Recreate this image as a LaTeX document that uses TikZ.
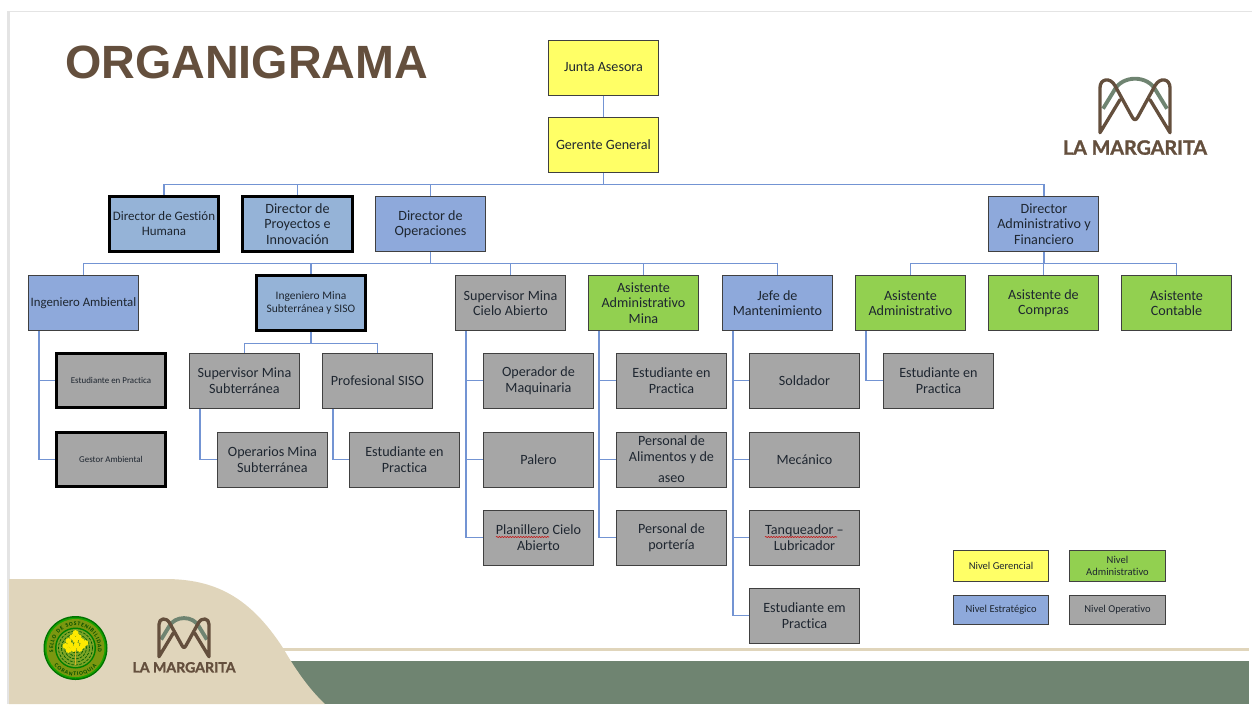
\documentclass[tikz,border=0pt]{standalone}
\usepackage{fontspec}
\setmainfont[Ligatures=CommonOff]{Carlito}
\newfontfamily\titlefont{Liberation Sans}
\newfontfamily\logofont[BoldFeatures={FakeBold=1.4}]{Lato}
\usetikzlibrary{calc,decorations.text,decorations.pathmorphing}
\definecolor{brownlogo}{HTML}{644F3D}
\definecolor{greenlogo}{HTML}{6F8471}
\definecolor{sand}{HTML}{E0D5BB}
\definecolor{framegray}{HTML}{E4E4E4}
\definecolor{linkblue}{HTML}{7394D3}
\definecolor{gerfill}{HTML}{FFFF66}
\definecolor{estfill}{HTML}{8EA9DB}
\definecolor{heavyfill}{HTML}{95B3D7}
\definecolor{admfill}{HTML}{92D050}
\definecolor{opfill}{HTML}{A6A6A6}
\definecolor{inktext}{HTML}{1E2630}
\tikzset{
  orgbox/.style={draw=black!75,line width=0.75pt,text=inktext,align=center,inner sep=0pt,xshift=-0.4pt,
    minimum width=82.5pt,minimum height=41.25pt,font=\fontsize{10.6}{11.6}\selectfont},
  gerbox/.style={orgbox,fill=gerfill},
  estbox/.style={orgbox,fill=estfill},
  admbox/.style={orgbox,fill=admfill},
  opbox/.style={orgbox,fill=opfill},
  heavy/.style={draw=black,line width=2.2pt,fill=heavyfill,minimum width=82pt,minimum height=41pt},
  legbox/.style={orgbox,minimum width=71.5pt,font=\fontsize{7.9}{9.4}\selectfont},
  conn/.style={draw=linkblue,line width=1pt},
  tree/.style={to path={(\tikztostart.south) -- ++(0,-8.6pt) -| (\tikztotarget.north)}},
  side/.style={to path={([xshift=8.25pt]\tikztostart.south west) |- (\tikztotarget.west)}},
  logo/.pic={
    \draw[greenlogo,line width=2.9pt] (-32,-24) -- (-21,-42) .. controls (-13,-58) and (13,-58) .. (21,-42) -- (32,-24);
    \draw[brownlogo,line width=2.5pt,line join=round,line cap=round]
      (-15,-33) -- (-35,0) -- (-35,-45) .. controls (-35,-54) and (-25,-56) .. (-20,-47)
      -- (-3,-16) .. controls (-1,-12) and (1,-12) .. (3,-16) -- (20,-47)
      .. controls (25,-56) and (35,-54) .. (35,-45) -- (35,0) -- (15,-33);
    \node[transform shape,anchor=base,text=brownlogo,font=\logofont\bfseries\fontsize{14.8}{16}\selectfont] (-logotext) at (0,22) {LA MARGARITA};
  }
}
\begin{document}
\begin{tikzpicture}[x=0.75pt,y=-0.75pt]
  \useasboundingbox (0,0) rectangle (1252,704);
  % slide background
  \fill[framegray] (7,11) rectangle (10,704);
  \fill[framegray] (7,10.5) rectangle (1252,12);
  \fill[greenlogo] (285,661) rectangle (1249,704);
  \fill[sand] (283,648) rectangle (1249,650.5);
  \fill[sand] (9,579) -- (165,579) .. controls (215,579) and (250,597) .. (283,648)
    .. controls (297,672) and (310,690) .. (325,704) -- (9,704) -- cycle;
  \node[anchor=base west,inner sep=0pt,text=brownlogo,font=\titlefont\bfseries\fontsize{35}{35}\selectfont] (title) at (65,78.5) {ORGANIGRAMA};
  \pic (logotop) at (1135,132.7) {logo};
  \pic[scale=0.715] (logobottom) at (184,656.7) {logo};
  % seal
  \begin{scope}[shift={(75.5,648)},x=0.75pt,y=0.75pt]
    \fill[green!45!black] (0,0) circle[radius=32];
    \fill[green!60!black!90!yellow] (0,0) circle[radius=30.5];
    \fill[olive!70!green] (0,0) circle[radius=29];
    \fill[green!50!black] (0,0) circle[radius=20.5];
    \fill[olive!60!green!90!white] (0,0) circle[radius=19];
    \foreach \r in {5,8,...,17}
      \draw[green!35!black,line width=0.5pt,dash pattern=on 2pt off 1pt] (0,0) circle[radius=\r];
    \path[decorate,decoration={text along path,text align={fit to path},
      text={|\fontsize{4.2}{5}\selectfont\bfseries\color{green!30!black}|SELLO DE SOSTENIBILIDAD}}]
      (-22,-4) arc[start angle=190,end angle=-10,radius=22.4];
    \path[decorate,decoration={text along path,text align={fit to path},
      text={|\fontsize{4.2}{5}\selectfont\bfseries\color{green!30!black}|CORANTIOQUIA}}]
      (-21.3,-17.9) arc[start angle=220,end angle=320,radius=27.8];
    \draw[brown!60!yellow,line width=0.9pt] (0,-17) -- (0,3);
    \foreach \tx/\ty in {0/15,-3/11,3/11,-7/7,0/8,6/7,-10/2,-5/3,1/3,7/2,-7/-2,-2/-1,4/-1,10/5}
      \fill[yellow!92!orange] (\tx,\ty) circle[radius=2.9];
  \end{scope}
  % level 0 and 1
  \draw (604,67.5) node[gerbox] (junta) {Junta Asesora};
  \draw (604,145) node[gerbox] (gerente) {Gerente General};
  \draw (164.5,224) node[estbox,heavy,font=\fontsize{9.7}{11.2}\selectfont] (gestion) {Director de Gestión\\Humana};
  \draw (298,224) node[estbox,heavy] (proyectos) {Director de\\Proyectos e\\Innovación};
  \draw (431,224) node[estbox] (operaciones) {Director de\\Operaciones};
  \draw (1044.5,224) node[estbox] (financiero) {Director\\Administrativo y\\Financiero};
  % level 2
  \draw (84,303) node[estbox,font=\fontsize{9.6}{11.6}\selectfont] (ambiental) {Ingeniero Ambiental};
  \draw (311.5,303) node[estbox,heavy,font=\fontsize{8.6}{9.6}\selectfont] (inmina) {Ingeniero Mina\\Subterránea y SISO};
  \draw (511,303) node[opbox] (cielo) {Supervisor Mina\\Cielo Abierto};
  \draw (644,303) node[admbox] (asismina) {Asistente\\Administrativo\\Mina};
  \draw (778,303) node[estbox] (jefe) {Jefe de\\Mantenimiento};
  \draw (911,303) node[admbox] (asisadm) {Asistente\\Administrativo};
  \draw (1044,303) node[admbox] (compras) {Asistente de\\Compras};
  \draw (1177,303) node[admbox] (contable) {Asistente\\Contable};
  % level 3
  \draw (111.5,380.5) node[opbox,heavy,fill=opfill,font=\fontsize{6.7}{8}\selectfont] (estamb) {Estudiante en Practica};
  \draw (111.5,459.5) node[opbox,heavy,fill=opfill,font=\fontsize{6.7}{8}\selectfont] (gestor) {Gestor Ambiental};
  \draw (245,380.5) node[opbox] (supsub) {Supervisor Mina\\Subterránea};
  \draw (378,380.5) node[opbox] (profsiso) {Profesional SISO};
  \draw (273,459.5) node[opbox] (operarios) {Operarios Mina\\Subterránea};
  \draw (405,459.5) node[opbox] (estsiso) {Estudiante en\\Practica};
  \draw (539,380.5) node[opbox] (operador) {Operador de\\Maquinaria};
  \draw (539,459.5) node[opbox] (palero) {Palero};
  \draw (539,537.5) node[opbox] (planillero) {Planillero Cielo\\Abierto};
  \draw (672,380.5) node[opbox] (estmina) {Estudiante en\\Practica};
  \draw (672,459.5) node[opbox] (alimentos) {Personal de\\Alimentos y de\\[4.5pt]aseo};
  \draw (672,537.5) node[opbox] (porteria) {Personal de\\portería};
  \draw (805,380.5) node[opbox] (soldador) {Soldador};
  \draw (805,459.5) node[opbox] (mecanico) {Mecánico};
  \draw (805,537.5) node[opbox] (tanqueador) {Tanqueador --\\Lubricador};
  \draw (805,615.5) node[opbox] (estjefe) {Estudiante em\\Practica};
  \draw (939,380.5) node[opbox] (estadm) {Estudiante en\\Practica};
  % legend
  \draw (1001.6,566) node[legbox,fill=gerfill,minimum height=23pt] (leggerencial) {Nivel Gerencial};
  \draw (1118,566) node[legbox,fill=admfill,minimum height=23pt] (legadmin) {Nivel\\Administrativo};
  \draw (1001.6,610) node[legbox,fill=estfill,minimum height=22pt] (legestrat) {Nivel Estratégico};
  \draw (1118,610) node[legbox,fill=opfill,minimum height=22pt] (legoper) {Nivel Operativo};
  % spell check marks
  \draw[red!80!black,line width=0.4pt,decorate,decoration={snake,amplitude=0.4pt,segment length=2pt}] (496,537) -- (549,537);
  \draw[red!80!black,line width=0.4pt,decorate,decoration={snake,amplitude=0.4pt,segment length=2pt}] (765,537) -- (837,537);
  % connectors
  \path[conn]
  (junta) edge (gerente)
  (gerente) edge[tree] (gestion)
            edge[tree] (proyectos)
            edge[tree] (operaciones)
            edge[tree] (financiero)
  (operaciones) edge[tree] (ambiental)
                edge[tree] (inmina)
                edge[tree] (cielo)
                edge[tree] (asismina)
                edge[tree] (jefe)
  (financiero) edge[tree] (asisadm)
               edge[tree] (compras)
               edge[tree] (contable)
  (inmina) edge[tree] (supsub)
           edge[tree] (profsiso)
  (ambiental) edge[side] (estamb)
              edge[side] (gestor)
  (supsub) edge[side] (operarios)
  (profsiso) edge[side] (estsiso)
  (cielo) edge[side] (operador)
          edge[side] (palero)
          edge[side] (planillero)
  (asismina) edge[side] (estmina)
             edge[side] (alimentos)
             edge[side] (porteria)
  (jefe) edge[side] (soldador)
         edge[side] (mecanico)
         edge[side] (tanqueador)
         edge[side] (estjefe)
  (asisadm) edge[side] (estadm);
\end{tikzpicture}
\end{document}
